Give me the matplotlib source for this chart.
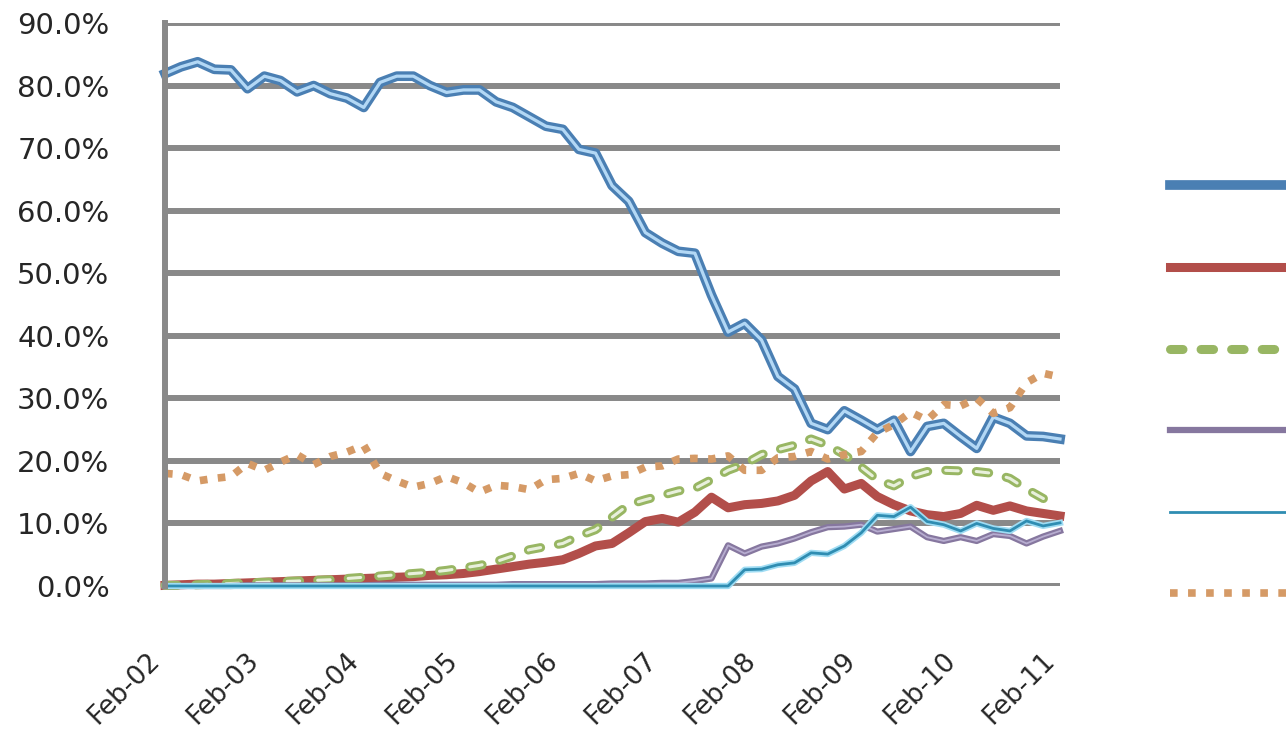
import numpy as np
import pandas as pd
import matplotlib
matplotlib.use("Agg")
import matplotlib.pyplot as plt
from matplotlib.ticker import FuncFormatter

plt.rcParams['font.family'] = ['DejaVu Sans']
plt.rcParams['lines.scale_dashes'] = False

# bimonthly points, Feb-02 .. Feb-11 (values in %)
dates = pd.date_range('2002-02-01', '2011-02-01', freq='2MS')
tick_dates = pd.date_range('2002-02-01', '2011-02-01', freq='12MS')
tick_labels = [d.strftime('%b-%y') for d in tick_dates]

blue = [81.9, 83.0, 83.8, 82.6, 82.5, 79.5, 81.5, 80.8, 79.0, 80.0,
        78.7, 78.0, 76.5, 80.5, 81.5, 81.5, 80.0, 78.9, 79.3, 79.3,
        77.4, 76.5, 75.0, 73.5, 73.0, 69.8, 69.2, 64.0, 61.5, 56.5,
        54.8, 53.5, 53.2, 46.5, 40.6, 42.0, 39.3, 33.5, 31.5, 26.0,
        25.0, 28.0, 26.5, 25.0, 26.5, 21.5, 25.5, 26.0, 23.9, 22.0,
        27.0, 26.0, 24.0, 23.9, 23.5]
red = [0.1, 0.2, 0.3, 0.3, 0.4, 0.5, 0.6, 0.7, 0.8, 0.9,
       1.0, 1.1, 1.2, 1.3, 1.4, 1.5, 1.7, 1.8, 2.0, 2.3,
       2.7, 3.1, 3.5, 3.8, 4.2, 5.2, 6.4, 6.8, 8.5, 10.3,
       10.8, 10.2, 11.8, 14.2, 12.5, 13.0, 13.2, 13.6, 14.5, 16.8,
       18.3, 15.5, 16.4, 14.3, 13.0, 12.0, 11.4, 11.1, 11.6, 12.9,
       12.1, 12.8, 12.0, 11.6, 11.2]
green = [0.1, 0.1, 0.2, 0.3, 0.4, 0.5, 0.6, 0.7, 0.8, 0.9,
         1.0, 1.2, 1.4, 1.6, 1.8, 2.0, 2.2, 2.5, 2.9, 3.3,
         3.9, 4.8, 5.8, 6.3, 6.8, 8.0, 9.0, 11.0, 13.0, 13.8,
         14.5, 15.2, 15.6, 17.0, 18.5, 19.5, 21.0, 21.8, 22.5, 23.5,
         22.5, 21.0, 19.0, 17.0, 16.0, 17.5, 18.3, 18.5, 18.4, 18.3,
         18.0, 17.2, 15.5, 14.0, 13.0]
purple = [0.0, 0.0, 0.0, 0.0, 0.0, 0.1, 0.1, 0.1, 0.1, 0.1,
          0.1, 0.1, 0.1, 0.2, 0.2, 0.2, 0.2, 0.2, 0.2, 0.2,
          0.2, 0.3, 0.3, 0.3, 0.3, 0.3, 0.3, 0.4, 0.4, 0.4,
          0.5, 0.5, 0.8, 1.2, 6.5, 5.2, 6.3, 6.8, 7.6, 8.6,
          9.4, 9.5, 9.8, 8.7, 9.1, 9.5, 7.8, 7.2, 7.8, 7.2,
          8.3, 8.0, 6.8, 7.9, 8.8]
cyan = [0.0, 0.0, 0.0, 0.0, 0.0, 0.0, 0.0, 0.0, 0.0, 0.0,
        0.0, 0.0, 0.0, 0.0, 0.0, 0.0, 0.0, 0.0, 0.0, 0.0,
        0.0, 0.0, 0.0, 0.0, 0.0, 0.0, 0.0, 0.0, 0.0, 0.0,
        0.0, 0.0, 0.0, 0.0, 0.0, 2.6, 2.7, 3.4, 3.7, 5.3,
        5.1, 6.4, 8.5, 11.3, 11.1, 12.6, 10.3, 9.8, 8.8, 10.0,
        9.2, 8.8, 10.4, 9.6, 10.1]
orange = [18.0, 17.8, 16.8, 17.2, 17.5, 19.6, 18.5, 19.8, 21.0, 19.4,
          20.7, 21.4, 22.5, 18.0, 16.8, 15.8, 16.4, 17.5, 16.5, 15.0,
          16.1, 15.9, 15.4, 17.0, 17.2, 18.0, 16.8, 17.6, 17.8, 19.0,
          19.2, 20.3, 20.4, 20.3, 20.8, 18.5, 18.5, 20.5, 20.7, 21.5,
          20.3, 21.0, 21.5, 24.5, 25.8, 27.8, 26.5, 29.0, 28.8, 30.0,
          27.6, 28.5, 32.5, 34.0, 33.4]

def pct(v):
    return np.array(v) / 100.0

fig = plt.figure(figsize=(12.86, 7.44), dpi=100)
ax = fig.add_axes([165 / 1286, 1 - 586 / 744, (1060 - 165) / 1286, (586 - 23) / 744])

grid_col = '#898989'
ax.yaxis.grid(True, color=grid_col, lw=4.3)
ax.set_axisbelow(True)
for s in ['top', 'right', 'bottom']:
    ax.spines[s].set_visible(False)
ax.spines['left'].set_color(grid_col)
ax.spines['left'].set_linewidth(4.3)

# blue (double line)
h_blue, = ax.plot(dates, pct(blue), color='#4a7fb3', lw=7, solid_joinstyle='round', clip_on=False)
ax.plot(dates, pct(blue), color='#b3d8f5', lw=2.3, solid_joinstyle='round', clip_on=False)
# red
h_red, = ax.plot(dates, pct(red), color='#b24e4a', lw=6.5, solid_joinstyle='round', clip_on=False)
# green dashed, hollow
h_green, = ax.plot(dates, pct(green), color='#98b663', lw=6.5, ls=(0, (9, 13)),
                   dash_capstyle='round', clip_on=False)
ax.plot(dates, pct(green), color='#e8f0dc', lw=2.2, ls=(0, (9, 13)),
        dash_capstyle='round', clip_on=False)
# purple
h_purple, = ax.plot(dates, pct(purple), color='#86779f', lw=4.5, solid_joinstyle='round', clip_on=False)
ax.plot(dates, pct(purple), color='#b7add0', lw=1.3, clip_on=False)
# cyan
ax.plot(dates, pct(cyan), color='#9fdcf3', lw=4.5, clip_on=False)
h_cyan, = ax.plot(dates, pct(cyan), color='#2f8db2', lw=2.0, clip_on=False)
# orange dotted
h_orange, = ax.plot(dates, pct(orange), color='#d59a66', lw=5.5, ls=(0, (5.5, 7.5)),
                    dash_capstyle='butt', clip_on=False)

ax.set_ylim(0, 0.9)
ax.set_xlim(dates[0], dates[-1])
ax.set_yticks(np.arange(0, 0.91, 0.1))
ax.yaxis.set_major_formatter(FuncFormatter(lambda v, p: '{:.1f}%'.format(v * 100)))
ax.set_xticks(tick_dates)
ax.set_xticklabels(tick_labels, rotation=45, ha='right', va='top')
ax.tick_params(axis='y', length=0, pad=40, labelsize=21, labelcolor='#262626')
ax.tick_params(axis='x', length=0, pad=44, labelsize=19, labelcolor='#262626')

fig.legend([h_blue, h_red, h_green, h_purple, h_cyan, h_orange], [''] * 6,
           loc='upper left', bbox_to_anchor=(1170 / 1286, 1 - 173 / 744),
           frameon=False, fontsize=20, handlelength=7, handletextpad=0,
           borderpad=0, borderaxespad=0, labelspacing=1.93)

fig.savefig('out.png', dpi=100, facecolor='white')
